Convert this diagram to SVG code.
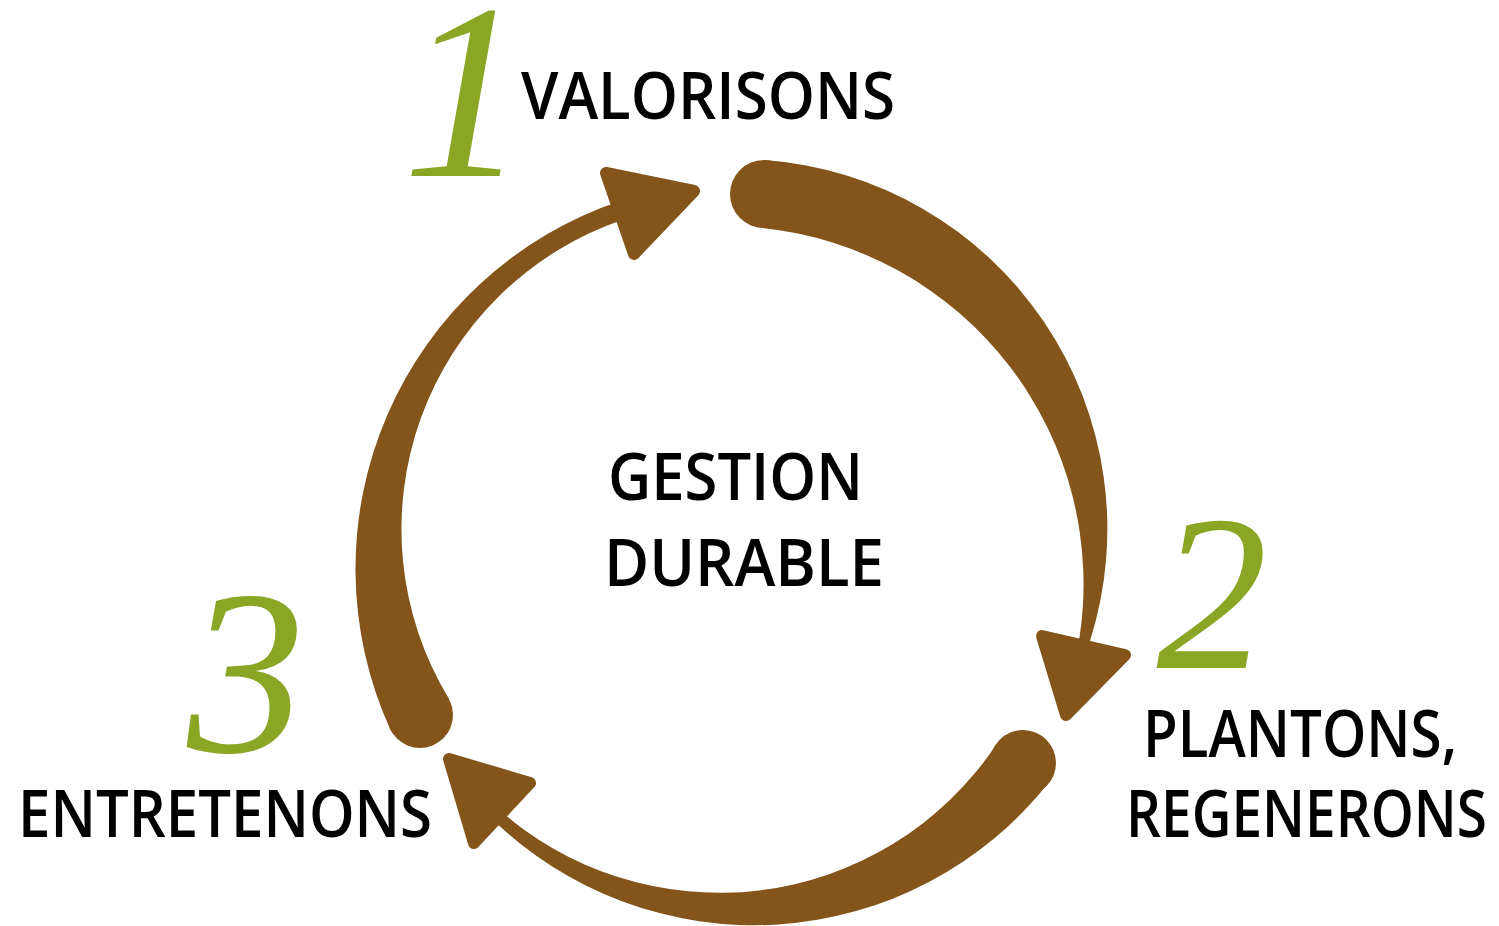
<svg xmlns="http://www.w3.org/2000/svg" width="1499" height="926" viewBox="0 0 1499 926">
<style>
.arc{fill:#83551a}
.head{fill:#83551a;stroke:#83551a;stroke-width:12;stroke-linejoin:round}
.lbl{font-family:"Open Sans","Liberation Sans",sans-serif;font-weight:600;font-size:66px;fill:#000}
.num{font-family:"Liberation Serif",serif;font-style:italic;fill:#8ba524}
</style>
<rect width="1499" height="926" fill="#fff"/>
<g id="connectors">
<path class="arc" d="M765,160 A370 370 0 0 1 1090,641 L1079,641 A358 358 0 0 0 762,228 Z"/>
<circle class="arc" cx="764" cy="194" r="34"/>
<polygon class="head" points="1042,636 1125,655 1066,715"/>
<path class="arc" d="M1050,781 A376 376 0 0 1 490,817 L495,806 A333 333 0 0 0 996,745 Z"/>
<circle class="arc" cx="1023" cy="763" r="33"/>
<polygon class="head" points="449,759 530,783 474,843"/>
<path class="arc" d="M620,201 A388 388 0 0 0 391,731 L449,699 A327 327 0 0 1 622,220 Z"/>
<circle class="arc" cx="420" cy="715" r="33"/>
<polygon class="head" points="606,173 694,191 634,254"/>
</g>
<g id="center">
<text class="lbl" x="608" y="500" textLength="255" lengthAdjust="spacingAndGlyphs">GESTION</text>
<text class="lbl" x="604" y="586" textLength="280" lengthAdjust="spacingAndGlyphs">DURABLE</text>
</g>
<g id="step1">
<text class="num" x="465" y="176" font-size="250" text-anchor="middle">1</text>
<text class="lbl" x="521" y="119" textLength="374" lengthAdjust="spacingAndGlyphs">VALORISONS</text>
</g>
<g id="step2">
<text class="num" x="1212" y="668" font-size="222" text-anchor="middle">2</text>
<text class="lbl" x="1143" y="757" textLength="314" lengthAdjust="spacingAndGlyphs">PLANTONS,</text>
<text class="lbl" x="1126" y="837" textLength="361" lengthAdjust="spacingAndGlyphs">REGENERONS</text>
</g>
<g id="step3">
<text class="num" x="246" y="752" font-size="236" text-anchor="middle">3</text>
<text class="lbl" x="18" y="837" textLength="414" lengthAdjust="spacingAndGlyphs">ENTRETENONS</text>
</g>
</svg>
